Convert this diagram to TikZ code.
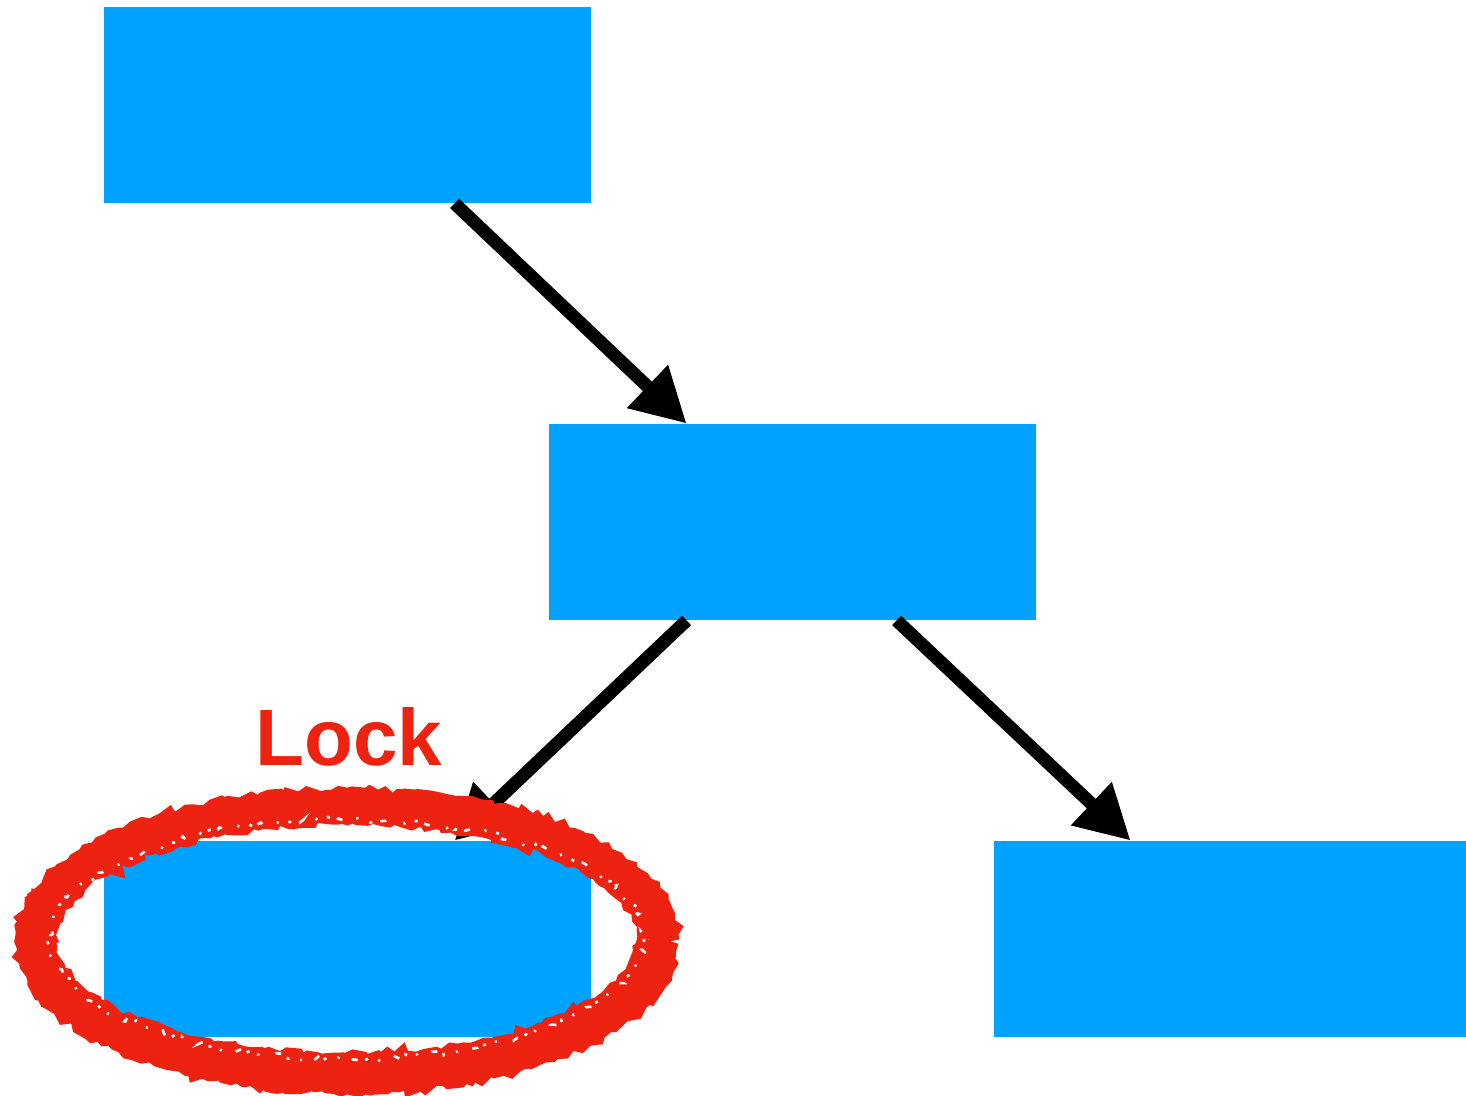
\documentclass[tikz,border=0pt]{standalone}
\usepackage{fontspec}
\setmainfont{Liberation Sans}
\usetikzlibrary{arrows.meta,decorations.pathmorphing}
\definecolor{boxblue}{HTML}{00A2FF}
\definecolor{markred}{HTML}{EE2211}
\tikzset{
  blockbox/.style={fill=boxblue, draw=none, inner sep=0pt, minimum height=98pt},
  link/.style={line width=6.5pt, -{Triangle[length=27pt,width=28pt]}},
  marker/.style={draw=markred, line width=9pt,
    decorate, decoration={random steps, segment length=3pt, amplitude=1.6pt}},
  speckle/.style={draw=white, line width=1.3pt,
    dash pattern=on 1.5pt off 4pt on 3pt off 9pt on 1pt off 6pt,
    decorate, decoration={random steps, segment length=2pt, amplitude=1.5pt}},
}
\begin{document}
\begin{tikzpicture}[x=0.5pt,y=-0.5pt]
  \pgfmathsetseed{17}
  \useasboundingbox (0,0) rectangle (1466,1096);

  % tree of blocks
  \node[blockbox, minimum width=243.5pt] (A) at (347.5,105) {};
  \node[blockbox, minimum width=243.5pt] (B) at (792.5,522) {};
  \node[blockbox, minimum width=243.5pt] (C) at (347.5,939) {};
  \node[blockbox, minimum width=236pt]   (D) at (1230,939) {};

  % connectors
  \draw[link] ([xshift=175.5pt]A.south west) -- ([xshift=69pt]B.north west);
  \draw[link] ([xshift=69pt]B.south west)    -- ([xshift=175.5pt]C.north west);
  \draw[link] ([xshift=174pt]B.south west)   -- ([xshift=68.5pt]D.north west);

  % hand-drawn marker ring around the locked block
  \coordinate (ring) at (347,939);
  \draw[marker] (ring) ellipse [x radius=299, y radius=123];
  \draw[marker] ([yshift=1pt]ring) ellipse [x radius=311, y radius=134];
  \draw[marker] ([yshift=-1pt]ring) ellipse [x radius=323, y radius=144];
  \draw[marker, line width=6pt] ([xshift=2pt]ring) ellipse [x radius=305, y radius=129];
  \draw[marker, line width=6pt] ([xshift=-2pt]ring) ellipse [x radius=317, y radius=139];
  \draw[speckle] (ring) ellipse [x radius=297, y radius=120];

  \node[text=markred, font=\fontsize{40}{40}\selectfont\bfseries, anchor=base, inner sep=0pt]
    (lock) at (349,765) {Lock};
\end{tikzpicture}
\end{document}
